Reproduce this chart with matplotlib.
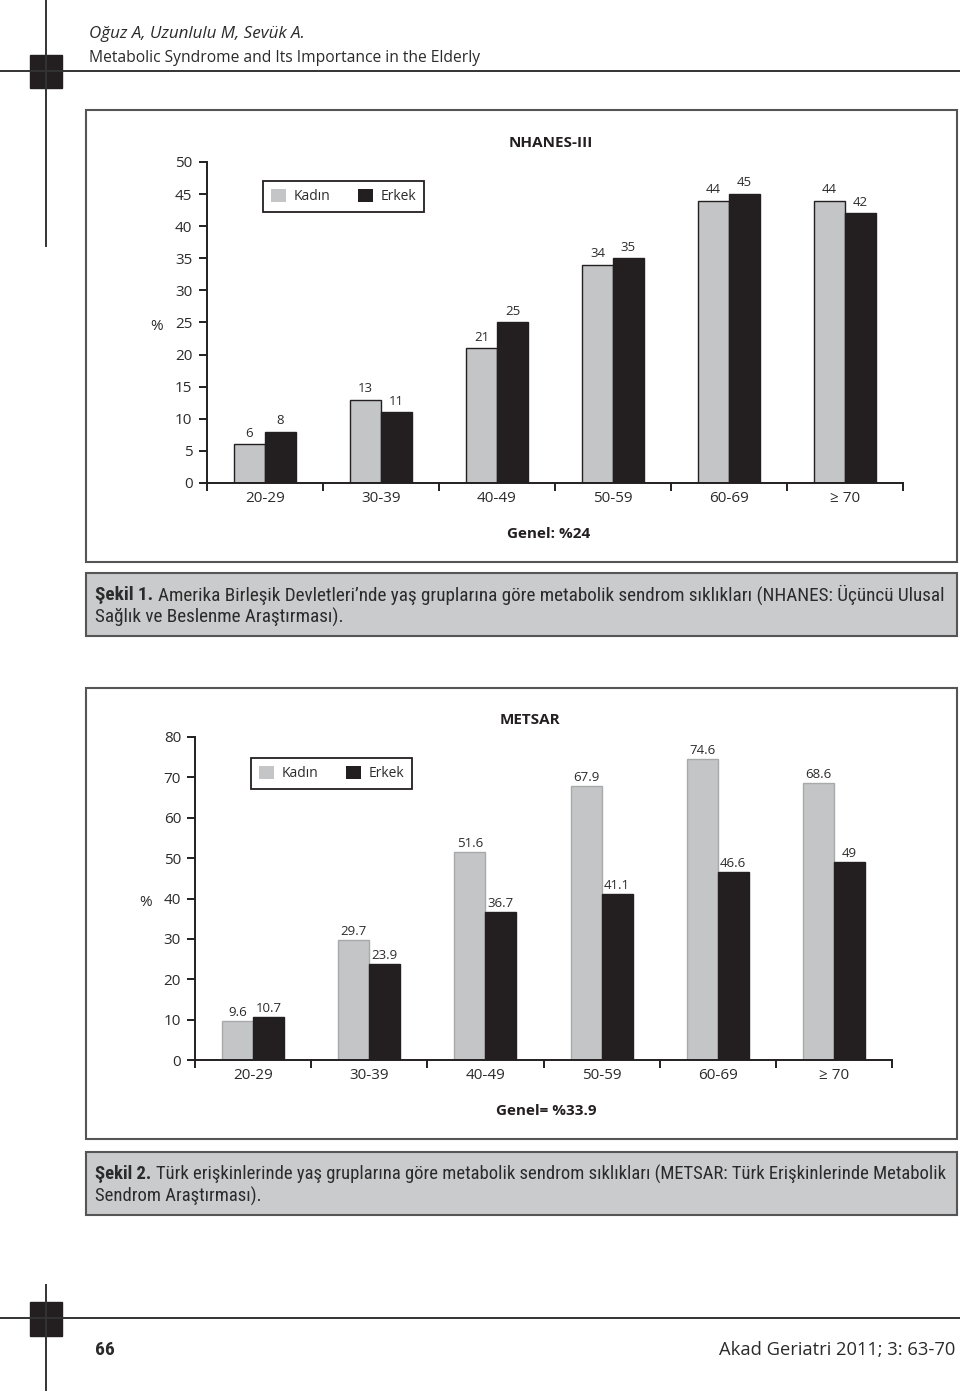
import matplotlib
matplotlib.use('Agg')
import matplotlib.pyplot as plt
from matplotlib.patches import Rectangle, Patch
import numpy as np

plt.rcParams['font.family'] = ['Open Sans', 'DejaVu Sans']

# Veri
yas_gruplari = ['20-29', '30-39', '40-49', '50-59', '60-69', '\u2265 70']
nhanes_kadin = [6, 13, 21, 34, 44, 44]
nhanes_erkek = [8, 11, 25, 35, 45, 42]
metsar_kadin = [9.6, 29.7, 51.6, 67.9, 74.6, 68.6]
metsar_erkek = [10.7, 23.9, 36.7, 41.1, 46.6, 49]
seriler = ['Kadın', 'Erkek']

W, H = 960, 1391
GRI = '#c4c5c7'
SIYAH = '#231f20'
YAZI = '#2b2b2b'
CERCEVE = '#555555'
DAR = ['Liberation Sans Narrow', 'Roboto Condensed', 'DejaVu Sans Condensed', 'DejaVu Sans']

fig = plt.figure(figsize=(W / 100, H / 100), dpi=100)
bg = fig.add_axes([0, 0, 1, 1])
bg.set_xlim(0, W)
bg.set_ylim(H, 0)
bg.axis('off')
renderer = fig.canvas.get_renderer()


def sigdir(t, hedef):
    # yaziyi istenen genislige olcekle
    w = t.get_window_extent(renderer).width
    t.set_fontsize(t.get_fontsize() * hedef / w)


# Ust ve alt sayfa cizgileri
bg.plot([0, W], [71, 71], color='#333333', lw=1.4)
bg.plot([46, 46], [0, 246], color='#333333', lw=1.4)
bg.add_patch(Rectangle((30, 55), 32, 33, color=SIYAH))
bg.plot([0, W], [1318, 1318], color='#333333', lw=1.4)
bg.plot([46, 46], [1285, H], color='#333333', lw=1.4)
bg.add_patch(Rectangle((30, 1302), 32, 34, color=SIYAH))

t = bg.text(89, 34, 'Oğuz A, Uzunlulu M, Sevük A.', style='italic', fontsize=12,
            color=YAZI, va='center')
sigdir(t, 216)
t = bg.text(89, 58, 'Metabolic Syndrome and Its Importance in the Elderly', fontsize=12,
            color=YAZI, va='center')
sigdir(t, 388)
bg.text(95, 1350, '66', fontsize=14, fontweight='bold', color=YAZI, va='center',
        family=DAR)
t = bg.text(955, 1350, 'Akad Geriatri 2011; 3: 63-70', fontsize=12, color=YAZI,
            va='center', ha='right')
sigdir(t, 236)

# Grafik kutulari
bg.add_patch(Rectangle((86, 110), 871, 452, fill=False, ec=CERCEVE, lw=1.5))
bg.add_patch(Rectangle((86, 688), 871, 451, fill=False, ec=CERCEVE, lw=1.5))


def altyazi(y0, bold, satir1, satir2):
    bg.add_patch(Rectangle((86, y0), 871, 63, fc='#cacbcc', ec=CERCEVE, lw=1.5))
    x0, x1 = 95, 945
    fs = 12
    tb = bg.text(x0, y0 + 22, bold, fontsize=fs, fontweight='bold', color=YAZI,
                 va='center', family=DAR)
    tr = bg.text(x0, y0 + 22, satir1, fontsize=fs, color=YAZI, va='center', family=DAR)
    wb = tb.get_window_extent(renderer).width
    wr = tr.get_window_extent(renderer).width
    bosluk = fs * 0.35
    k = (x1 - x0) / (wb + bosluk + wr)
    fs = fs * k
    tb.set_fontsize(fs)
    tr.set_fontsize(fs)
    tr.set_x(x0 + (wb + bosluk) * k)
    bg.text(x0, y0 + 44, satir2, fontsize=fs, color=YAZI, va='center', family=DAR)


altyazi(573, 'Şekil 1.',
        'Amerika Birleşik Devletleri\u2019nde yaş gruplarına göre metabolik sendrom sıklıkları (NHANES: Üçüncü Ulusal',
        'Sağlık ve Beslenme Araştırması).')
altyazi(1152, 'Şekil 2.',
        'Türk erişkinlerinde yaş gruplarına göre metabolik sendrom sıklıkları (METSAR: Türk Erişkinlerinde Metabolik',
        'Sendrom Araştırması).')


def grafik(sol, sag, alt, ust, ymax, adim, kadin, erkek, gri_kenar, etiket_ofs, pad_y,
           lej_xy, baslik, baslik_xy, genel, genel_xy, yuzde_xy):
    ax = fig.add_axes([sol / W, 1 - alt / H, (sag - sol) / W, (alt - ust) / H])
    x = np.arange(len(yas_gruplari)) + 0.5
    bw = 0.267
    b1 = ax.bar(x - bw / 2, kadin, bw, color=GRI, edgecolor=gri_kenar, linewidth=1.0,
                label=seriler[0], zorder=2)
    b2 = ax.bar(x + bw / 2, erkek, bw, color=SIYAH, edgecolor=SIYAH, linewidth=1.0,
                label=seriler[1], zorder=2)
    for bars, vals in ((b1, kadin), (b2, erkek)):
        for b, v in zip(bars, vals):
            ax.annotate(f'{v:g}', (b.get_x() + b.get_width() / 2, v),
                        xytext=(0, etiket_ofs), textcoords='offset points',
                        ha='center', va='center', fontsize=9.5, color=YAZI)
    ax.set_xlim(0, len(yas_gruplari))
    ax.set_ylim(0, ymax)
    ax.set_yticks(np.arange(0, ymax + 1, adim))
    ax.set_xticks(np.arange(0, len(yas_gruplari) + 1))
    ax.set_xticklabels([])
    ax.set_xticks(x, minor=True)
    ax.set_xticklabels(yas_gruplari, minor=True, fontsize=11, color=YAZI)
    ax.tick_params(axis='x', which='minor', length=0, pad=6)
    ax.tick_params(axis='x', which='major', length=5.5, width=1.4, direction='out',
                   color=SIYAH)
    ax.tick_params(axis='y', length=5.5, width=1.4, direction='out', color=SIYAH,
                   labelsize=11, labelcolor=YAZI, pad=pad_y)
    for s in ('top', 'right'):
        ax.spines[s].set_visible(False)
    for s in ('left', 'bottom'):
        ax.spines[s].set_linewidth(1.4)
        ax.spines[s].set_color(SIYAH)
    ax.patch.set_alpha(0)

    tutac = [Patch(facecolor=GRI, edgecolor='none'), Patch(facecolor=SIYAH, edgecolor='none')]
    lej = ax.legend(tutac, seriler, loc='upper left', ncol=2,
                    bbox_to_anchor=(lej_xy[0] / W, 1 - lej_xy[1] / H),
                    bbox_transform=fig.transFigure, borderaxespad=0, fontsize=10,
                    handlelength=1.1, handleheight=1.1, handletextpad=0.55,
                    columnspacing=2.0, borderpad=0.55, fancybox=False, framealpha=1)
    lej.get_frame().set_edgecolor(SIYAH)
    lej.get_frame().set_linewidth(1.3)
    for tx in lej.get_texts():
        tx.set_color(YAZI)

    bg.text(*baslik_xy, baslik, fontsize=11, fontweight='bold', color=SIYAH,
            ha='center', va='center')
    bg.text(*genel_xy, genel, fontsize=11, fontweight='bold', color=SIYAH,
            ha='center', va='center')
    bg.text(*yuzde_xy, '%', fontsize=11, color=YAZI, ha='center', va='center')
    return ax


grafik(207, 903, 483, 162, 50, 5, nhanes_kadin, nhanes_erkek, SIYAH, 8, 5,
       (263, 181), 'NHANES-III', (551, 143), 'Genel: %24', (549, 534), (157, 327))
grafik(195, 892, 1060, 737, 80, 10, metsar_kadin, metsar_erkek, '#a8a9ab', 6, 4.5,
       (251, 758), 'METSAR', (530, 720), 'Genel= %33.9', (546, 1111), (146, 903))

fig.savefig('out.png', dpi=100)
